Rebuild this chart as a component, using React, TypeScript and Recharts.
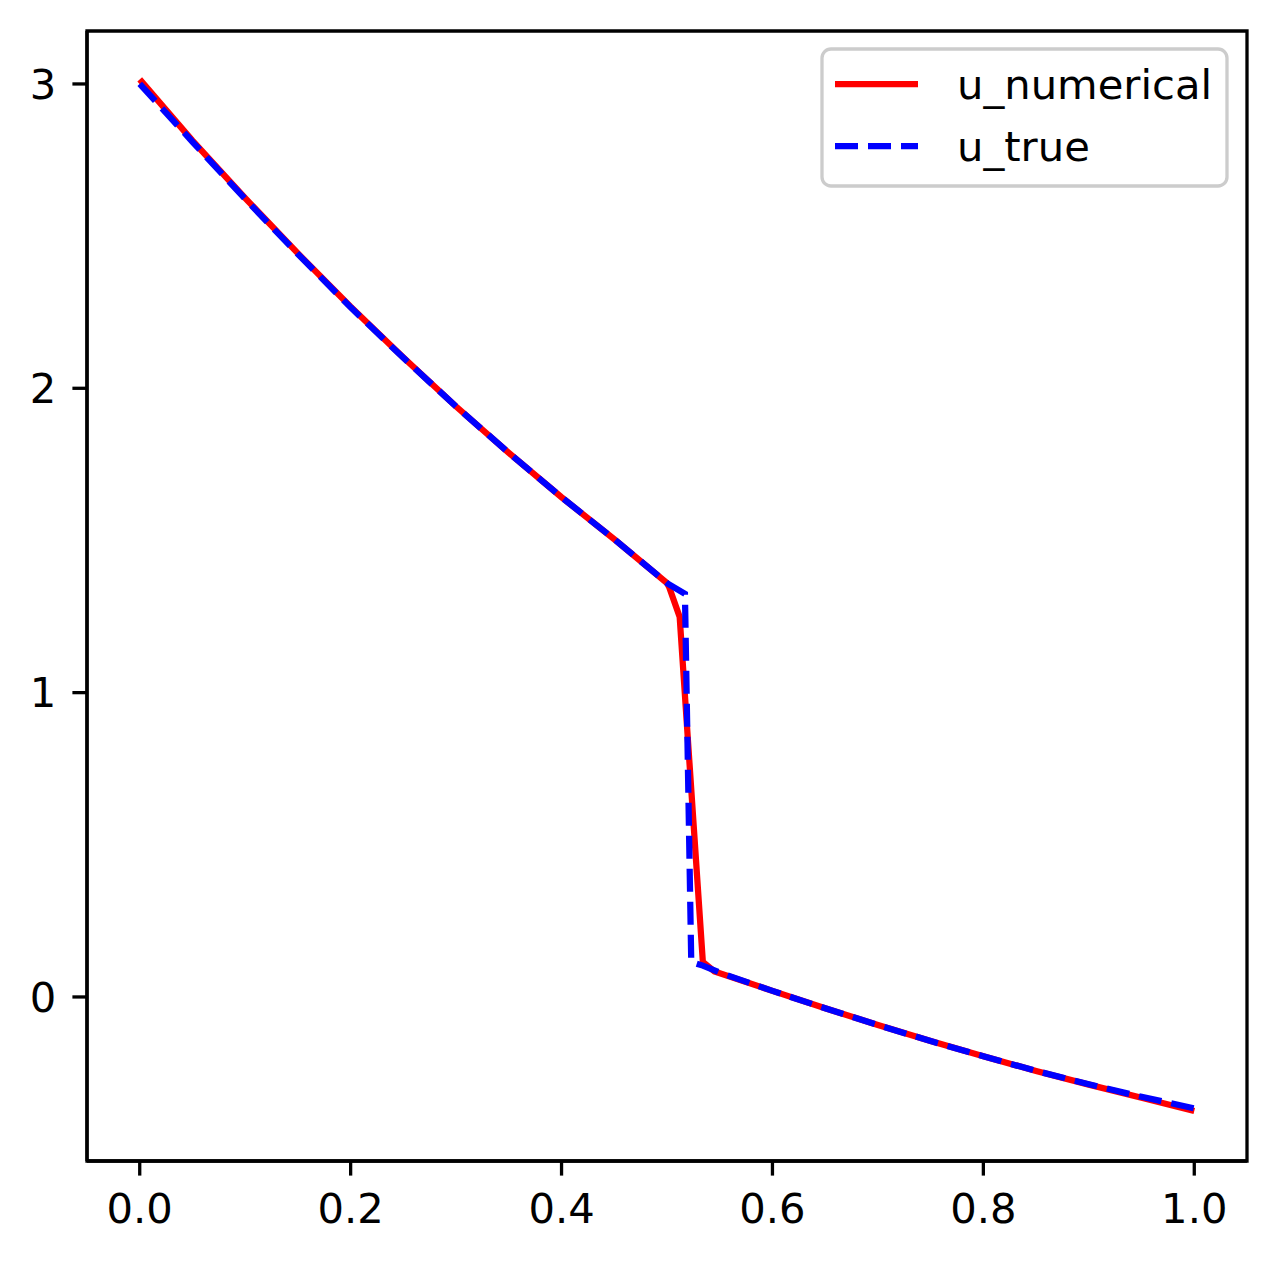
import React from 'react';
import { LineChart, Line, XAxis, YAxis, ReferenceArea } from 'recharts';

// numerical solution
const xNumerical = [0, 0.05, 0.1, 0.15, 0.2, 0.25, 0.3, 0.35, 0.4, 0.45, 0.5, 0.502, 0.512, 0.534, 0.545, 0.6, 0.65, 0.7, 0.75, 0.8, 0.85, 0.9, 0.95, 1.0];
const uNumerical = [3.015, 2.814, 2.625, 2.443, 2.268, 2.101, 1.94, 1.788, 1.642, 1.504, 1.36, 1.347, 1.249, 0.115, 0.084, 0.02, -0.037, -0.092, -0.145, -0.195, -0.243, -0.288, -0.331, -0.375];
// exact solution
const xTrue = [0, 0.05, 0.1, 0.15, 0.2, 0.25, 0.3, 0.35, 0.4, 0.45, 0.5, 0.517, 0.523, 0.534, 0.55, 0.6, 0.65, 0.7, 0.75, 0.8, 0.85, 0.9, 0.95, 1.0];
const uTrue = [3.0, 2.81, 2.622, 2.441, 2.266, 2.1, 1.94, 1.788, 1.642, 1.504, 1.36, 1.325, 0.115, 0.103, 0.08, 0.02, -0.037, -0.092, -0.145, -0.195, -0.243, -0.287, -0.328, -0.366];

const xTicks = [0, 0.2, 0.4, 0.6, 0.8, 1.0];
const yTicks = [0, 1, 2, 3];
const seriesNames = ['u_numerical', 'u_true'];

const numericalData = xNumerical.map((x, i) => ({ x, u: uNumerical[i] }));
const trueData = xTrue.map((x, i) => ({ x, u: uTrue[i] }));

const FONT = 'DejaVu Sans';
const FS = 41.7;
const LW = 6.25;
const XDOM: [number, number] = [-0.05, 1.05];
const YDOM: [number, number] = [-0.539, 3.174];

const LegendBox = () => (
  <svg width={410} height={142} style={{ display: 'block' }}>
    <rect x={2} y={2} width={405} height={137} rx={9} ry={9} fill="#ffffff" fillOpacity={0.8} stroke="#cccccc" strokeWidth={3.3} />
    <line x1={15} x2={98} y1={37} y2={37} stroke="#ff0000" strokeWidth={LW} />
    <text x={137} y={37} dy="0.35em" fontFamily={FONT} fontSize={FS} fill="#000">{seriesNames[0]}</text>
    <line x1={15} x2={98} y1={99} y2={99} stroke="#0000ff" strokeWidth={LW} strokeDasharray="23 10" />
    <text x={137} y={99} dy="0.35em" fontFamily={FONT} fontSize={FS} fill="#000">{seriesNames[1]}</text>
  </svg>
);

export default function App() {
  return (
    <div style={{ position: 'absolute', left: 0, top: 0, width: 1278, height: 1261, background: '#fff' }}>
      <LineChart width={1278} height={1261} margin={{ top: 31, right: 31, bottom: 0, left: 0 }}>
        <XAxis
          dataKey="x"
          type="number"
          domain={XDOM}
          ticks={xTicks}
          allowDataOverflow
          tickFormatter={(v: number) => v.toFixed(1)}
          height={100}
          tickSize={14.6}
          tickMargin={18}
          axisLine={{ stroke: '#000', strokeWidth: 3.3 }}
          tickLine={{ stroke: '#000', strokeWidth: 3.3 }}
          tick={{ fontFamily: FONT, fontSize: FS, fill: '#000' }}
        />
        <YAxis
          type="number"
          domain={YDOM}
          ticks={yTicks}
          allowDataOverflow
          width={87}
          tickSize={14.6}
          tickMargin={16}
          axisLine={{ stroke: '#000', strokeWidth: 3.3 }}
          tickLine={{ stroke: '#000', strokeWidth: 3.3 }}
          tick={{ fontFamily: FONT, fontSize: FS, fill: '#000' }}
        />
        <Line
          data={numericalData}
          dataKey="u"
          name={seriesNames[0]}
          type="linear"
          stroke="#ff0000"
          strokeWidth={LW}
          dot={false}
          activeDot={false}
          isAnimationActive={false}
        />
        <Line
          data={trueData}
          dataKey="u"
          name={seriesNames[1]}
          type="linear"
          stroke="#0000ff"
          strokeWidth={LW}
          strokeDasharray="23 10"
          dot={false}
          activeDot={false}
          isAnimationActive={false}
        />
        <ReferenceArea x1={XDOM[0]} x2={XDOM[1]} y1={YDOM[0]} y2={YDOM[1]} fill="none" stroke="#000" strokeWidth={3.3} ifOverflow="visible" />
      </LineChart>
      <div style={{ position: 'absolute', left: 820, top: 47 }}>
        <LegendBox />
      </div>
    </div>
  );
}
